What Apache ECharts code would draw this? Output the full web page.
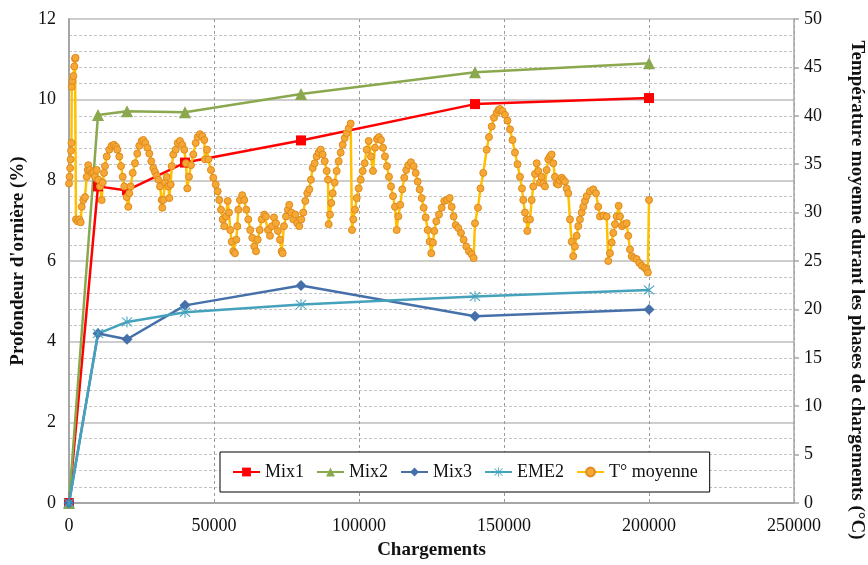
<!DOCTYPE html>
<html>
<head>
<meta charset="utf-8">
<script src="https://cdn.jsdelivr.net/npm/echarts@6/dist/echarts.min.js"></script>
<style>
html,body{margin:0;padding:0;background:#fff;}
#chart{width:868px;height:565px;}
</style>
</head>
<body>
<div id="chart"></div>
<script>
// Chargements (x) for the rut-depth series
const mixX = [0, 10000, 20000, 40000, 80000, 140000, 200000];
const mix1 = [0, 7.85, 7.75, 8.44, 8.99, 9.89, 10.04];
const mix2 = [0, 9.62, 9.71, 9.69, 10.14, 10.68, 10.90];
const mix3 = [0, 4.20, 4.06, 4.90, 5.39, 4.63, 4.80];
const eme2 = [0, 4.20, 4.49, 4.73, 4.92, 5.12, 5.28];

// Mean temperature during loading phases
const tempX = [0,200,400,550,700,850,950,1200,1500,1850,2070,2250,2410,3000,3550,4030,4380,4930,5520,6100,
6450,6660,7240,7830,8380,8960,9550,10100,10690,11270,11620,12070,12410,13000,13900,14720,15520,16210,16650,17340,
17930,18520,19070,19890,20450,20790,21270,21960,22760,23550,24240,25070,25620,26310,27000,27690,28380,29070,29650,30240,
30790,31380,31960,32170,32510,33100,33690,34240,34580,35070,35410,35960,36790,37480,38270,39070,39760,40340,40790,41380,
42070,42860,43690,44380,45170,45960,46650,46890,47580,48030,48960,49750,50580,51270,51820,52410,52990,53550,54130,54720,
55170,55620,56100,56650,57240,57690,58030,58380,58960,59750,60440,61130,61820,62510,63200,63890,64480,65060,65750,66440,
67340,67930,68620,69300,69990,70680,71370,72060,72750,73340,73680,74130,74820,75510,75960,76650,77340,78030,78720,79410,
80100,80790,81480,82170,82860,83440,84030,84720,85410,86100,86790,87480,88170,88860,89300,89540,89990,90440,90920,91610,
92300,92990,93680,94370,95060,95750,96440,97130,97580,98030,98610,99200,99890,100580,101270,101960,102650,103340,104130,104820,
105510,106200,106890,107580,108270,108960,109650,110340,111030,111720,112400,112990,113540,114230,114920,115610,116300,116990,117920,118850,
119540,120230,120920,121610,122300,122990,123680,124370,124920,125510,125960,126650,127580,128510,129410,130330,131260,131950,132640,133330,
134230,135160,136090,136990,137920,138850,139540,139990,141020,141890,142850,144020,144820,145750,146540,147470,148090,148610,149470,150330,
151190,152060,152920,153780,154650,155510,156200,156650,157230,157820,158030,158960,159540,160090,160680,161270,161820,162400,162990,163540,
164130,164710,165270,165850,166430,166990,167570,168160,168710,169300,169880,170430,171020,171610,172160,172740,173330,173880,174470,175060,
175610,176190,176780,177330,177920,178500,179640,180780,181710,182500,183090,184230,185400,185950,186540,187130,187680,188260,188850,189540,
189990,190680,191370,192300,192850,193440,194020,194810,195740,196640,197570,198500,199200,199600,200000];
const tempY = [33.0,33.7,34.6,35.5,36.4,37.2,43.0,43.6,44.1,45.1,45.9,46.0,29.3,29.1,29.3,29.0,30.6,31.3,31.6,33.7,
34.4,34.9,34.4,34.1,34.2,33.7,34.4,33.4,32.7,31.3,33.1,34.1,34.8,35.8,36.5,36.9,37.0,36.8,36.5,35.8,
34.8,33.7,32.7,31.6,30.6,32.0,32.7,34.1,35.1,36.1,36.9,37.4,37.5,37.2,36.7,36.1,35.3,34.6,34.2,33.8,
33.4,32.7,31.3,30.5,31.3,33.1,33.7,32.7,31.5,32.9,34.8,36.0,36.5,37.2,37.4,37.0,36.5,35.1,32.5,33.7,
34.9,36.0,37.2,37.8,38.1,37.9,37.5,35.5,36.5,35.5,34.4,33.6,32.9,32.2,31.3,30.3,29.3,28.6,29.6,31.2,
30.0,28.2,27.0,26.0,25.8,27.2,28.6,30.3,31.3,31.8,31.3,30.3,29.3,28.2,27.4,26.5,26.0,27.2,28.2,29.3,
29.8,29.6,28.2,27.6,28.6,29.5,28.9,28.1,27.2,26.0,25.8,28.6,29.6,30.3,30.8,30.0,29.3,29.8,28.9,28.6,
29.3,30.0,31.2,32.0,32.4,33.4,34.6,35.1,35.8,36.2,36.5,36.0,35.3,34.3,33.4,28.8,29.8,31.0,32.0,33.1,
34.3,35.3,36.2,37.0,37.7,38.2,38.7,39.2,28.2,29.3,30.3,31.5,32.5,33.4,34.3,35.1,36.5,37.4,35.8,34.3,
36.7,37.6,37.8,37.5,36.7,35.8,34.8,33.7,32.7,31.7,30.6,28.2,29.6,30.8,32.4,33.6,34.4,34.9,35.2,34.8,
34.1,33.2,32.4,31.5,30.5,29.5,28.2,27.0,25.8,26.9,28.1,29.1,29.8,30.5,31.2,31.3,31.5,30.6,29.6,28.7,
28.4,27.9,27.2,26.5,26.0,25.7,25.3,28.9,30.5,32.5,34.1,36.5,37.8,38.9,39.8,40.3,40.6,40.7,40.5,40.1,
39.5,38.6,37.5,36.2,35.0,33.7,32.5,31.3,30.0,29.3,28.1,29.3,31.3,32.7,34.0,35.1,34.3,33.1,33.7,33.0,
32.7,34.4,35.5,35.8,36.0,35.1,33.7,33.0,32.9,33.3,33.6,33.4,33.2,32.5,32.0,29.3,27.0,25.5,26.5,27.6,
28.6,29.3,30.0,30.6,31.2,31.7,32.2,32.4,32.0,30.6,29.6,29.7,29.6,25.0,25.8,26.9,27.9,28.8,29.6,30.7,
29.6,28.6,28.8,28.9,27.6,26.2,25.5,25.3,25.2,24.8,24.5,24.3,24.1,23.8,31.3];

const xTicks = {min: 0, max: 250000, interval: 50000};
const leftTicks = {min: 0, max: 12, interval: 2};
const rightTicks = {min: 0, max: 50, interval: 5};

const FONT = '"Liberation Serif", "DejaVu Serif", serif';
const pairs = (xs, ys) => xs.map((x, i) => [x, ys[i]]);
const asterisk = 'path://M4.6 0H5.4V10H4.6Z M0.7 1.3L1.3 0.7L9.3 8.7L8.7 9.3Z M8.7 0.7L9.3 1.3L1.3 9.3L0.7 8.7Z';

const chart = echarts.init(document.getElementById('chart'), null, {renderer: 'canvas'});
chart.setOption({
  animation: false,
  backgroundColor: '#fff',
  textStyle: {fontFamily: FONT},
  grid: {left: 69, right: 74, top: 19, bottom: 61, containLabel: false},
  legend: {
    left: 220, top: 452,
    padding: [11, 12],
    itemGap: 12,
    itemWidth: 27, itemHeight: 11,
    backgroundColor: '#fff',
    borderColor: '#000', borderWidth: 1,
    textStyle: {fontFamily: FONT, fontSize: 18, color: '#111'},
    data: ['Mix1', 'Mix2', 'Mix3', 'EME2', 'T° moyenne']
  },
  xAxis: {
    type: 'value',
    min: xTicks.min, max: xTicks.max, interval: xTicks.interval,
    name: 'Chargements', nameLocation: 'middle', nameGap: 38,
    nameTextStyle: {fontFamily: FONT, fontSize: 19, fontWeight: 'bold', color: '#111'},
    axisLine: {show: true, onZero: false, lineStyle: {color: '#A6A6A6', width: 2}},
    axisTick: {show: false},
    axisLabel: {fontFamily: FONT, fontSize: 18, color: '#111', margin: 14, formatter: v => String(v)},
    splitLine: {show: true, lineStyle: {color: '#9A9A9A', width: 1, type: [3, 3]}}
  },
  yAxis: [{
    type: 'value',
    min: leftTicks.min, max: leftTicks.max, interval: leftTicks.interval,
    name: "Profondeur d'ornière (%)", nameLocation: 'middle', nameGap: 41, nameRotate: 90,
    nameTextStyle: {fontFamily: FONT, fontSize: 19, fontWeight: 'bold', color: '#111'},
    axisLine: {show: true, lineStyle: {color: '#A6A6A6', width: 2}},
    axisTick: {show: false},
    axisLabel: {fontFamily: FONT, fontSize: 18, color: '#111', margin: 13},
    splitLine: {show: true, lineStyle: {color: '#BDBDBD', width: 1.5}},
    minorTick: {show: false, splitNumber: 5},
    minorSplitLine: {show: true, lineStyle: {color: '#C4C4C4', width: 1, type: [3, 2]}}
  }, {
    type: 'value',
    position: 'right',
    min: rightTicks.min, max: rightTicks.max, interval: rightTicks.interval,
    axisLine: {show: true, lineStyle: {color: '#A6A6A6', width: 1.5}},
    axisTick: {show: true, inside: false, length: 5, lineStyle: {color: '#A6A6A6', width: 1.5}},
    axisLabel: {fontFamily: FONT, fontSize: 18, color: '#111', margin: 10},
    splitLine: {show: false}
  }],
  graphic: [{
    type: 'text',
    x: 857, y: 290,
    rotation: -Math.PI / 2,
    style: {
      text: 'Température moyenne durant les phases de chargements (°C)',
      font: 'bold 19px ' + FONT,
      fill: '#111',
      align: 'center',
      verticalAlign: 'middle'
    }
  }],
  series: [{
    name: 'Mix1', type: 'line', yAxisIndex: 0, clip: false,
    data: pairs(mixX, mix1),
    symbol: 'rect', symbolSize: 10,
    lineStyle: {color: '#FF0000', width: 2.5},
    itemStyle: {color: '#FF0000'}
  }, {
    name: 'Mix2', type: 'line', yAxisIndex: 0, clip: false,
    data: pairs(mixX, mix2),
    symbol: 'triangle', symbolSize: 12,
    lineStyle: {color: '#8AA84E', width: 2.5},
    itemStyle: {color: '#8AA84E'}
  }, {
    name: 'Mix3', type: 'line', yAxisIndex: 0, clip: false,
    data: pairs(mixX, mix3),
    symbol: 'diamond', symbolSize: 11,
    lineStyle: {color: '#4570AA', width: 2.5},
    itemStyle: {color: '#4570AA'}
  }, {
    name: 'EME2', type: 'line', yAxisIndex: 0, clip: false,
    data: pairs(mixX, eme2),
    symbol: asterisk, symbolSize: 11,
    lineStyle: {color: '#45A2BC', width: 2.5},
    itemStyle: {color: '#45A2BC'}
  }, {
    name: 'T° moyenne', type: 'line', yAxisIndex: 1, clip: false,
    data: pairs(tempX, tempY),
    symbol: 'circle', symbolSize: 7,
    lineStyle: {color: '#FFC000', width: 2.5},
    itemStyle: {color: '#F6A835', borderColor: '#E08A1C', borderWidth: 1}
  }]
});
</script>
</body>
</html>
